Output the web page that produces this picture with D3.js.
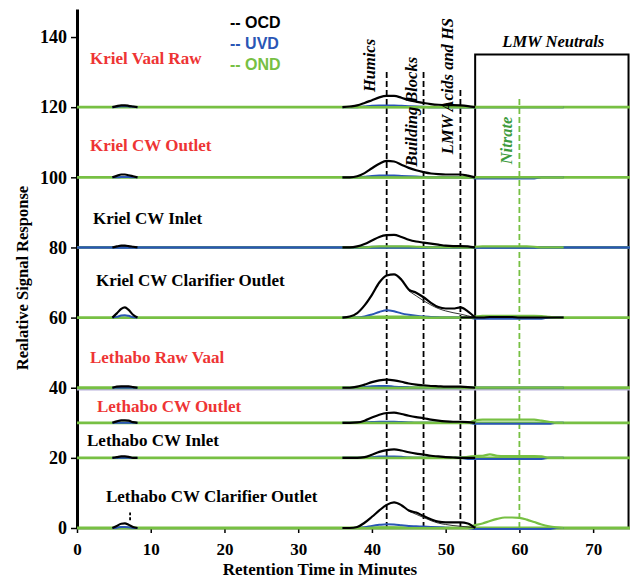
<!DOCTYPE html>
<html>
<head>
<meta charset="utf-8">
<script src="https://cdn.jsdelivr.net/npm/d3@7"></script>
<style>
  body { margin: 0; background: #fff; }
  svg { display: block; }
</style>
</head>
<body>
<div id="chart"></div>
<script>
// sample names and their vertical offsets (stacked chromatograms)
var samples = ["Kriel Vaal Raw", "Kriel CW Outlet", "Kriel CW Inlet", "Kriel CW Clarifier Outlet",
               "Lethabo Raw Vaal", "Lethabo CW Outlet", "Lethabo CW Inlet", "Lethabo CW Clarifier Outlet"];
var offsets = [120, 100, 80, 60, 40, 30, 20, 0];

var xTicks = [0, 10, 20, 30, 40, 50, 60, 70];
var yTicks = [0, 20, 40, 60, 80, 100, 120, 140];

// early peak (~6 min)
var earlyT = [4.8, 5.4, 6.0, 6.5, 7.0, 7.6, 8.2];
var earlyOCD = [
  [0, 0.3, 0.5, 0.5, 0.4, 0.2, 0],
  [0, 0.4, 0.8, 0.8, 0.6, 0.3, 0],
  [0, 0.3, 0.5, 0.5, 0.4, 0.2, 0],
  [0, 1.2, 2.5, 2.9, 2.2, 0.8, 0],
  [0, 0.3, 0.4, 0.4, 0.4, 0.2, 0],
  [0, 0.4, 0.7, 0.7, 0.6, 0.2, 0],
  [0, 0.2, 0.4, 0.4, 0.3, 0, 0],
  [0, 0.6, 1.2, 1.3, 0.9, 0.3, 0]
];
var earlyUVD = [
  [0, 0.1, 0.3, 0.3, 0.2, 0.1, 0],
  [0, 0, 0.1, 0.1, 0.1, 0, 0],
  [0, 0, 0, 0, 0, 0, 0],
  [0, 0.2, 0.6, 0.7, 0.5, 0.1, 0],
  [0, 0, 0, 0, 0, 0, 0],
  [0, 0, 0, 0, 0, 0, 0],
  [0, 0, 0, 0, 0, 0, 0],
  [0, 0.1, 0.3, 0.3, 0.2, 0, 0]
];

// humics / building blocks / LMW acids region
var humicT = [36, 37, 38, 39, 40, 41, 42, 43, 44, 45, 46, 47, 48, 49, 50, 51, 52, 53, 54];
var humicOCD = [
  [0, 0.2, 0.5, 1.2, 2.0, 2.8, 3.2, 3.2, 2.7, 2.0, 1.6, 1.2, 0.9, 0.7, 0.6, 0.6, 0.5, 0.3, 0],
  [0, 0, 0.3, 1.2, 2.6, 3.9, 4.7, 4.5, 3.6, 2.7, 2.0, 1.5, 1.1, 0.9, 0.8, 0.8, 0.8, 0.5, 0],
  [0, 0, 0.3, 1.0, 2.0, 3.0, 3.5, 3.6, 3.0, 2.2, 1.7, 1.4, 1.1, 0.8, 0.5, 0.4, 0.4, 0.3, 0],
  [0, 0.3, 1.3, 3.5, 6.5, 10.0, 12.0, 12.3, 10.8, 8.0, 7.1, 5.8, 4.2, 3.0, 2.6, 2.6, 2.9, 1.8, 0],
  [0, 0, 0.3, 0.9, 1.6, 2.1, 2.3, 2.1, 1.7, 1.2, 0.9, 0.7, 0.5, 0.4, 0.3, 0.3, 0.3, 0.2, 0],
  [0, 0, 0.1, 0.6, 1.5, 2.3, 2.8, 2.9, 2.5, 2.0, 1.6, 1.3, 0.9, 0.6, 0.4, 0.3, 0.3, 0.2, 0],
  [0, 0, 0, 0.2, 0.9, 1.7, 2.2, 2.4, 2.1, 1.6, 1.2, 0.95, 0.6, 0.4, 0.2, 0.1, 0, 0, 0],
  [0, 0, 0.3, 1.5, 3.2, 5.0, 6.6, 7.3, 6.5, 5.0, 4.4, 3.4, 2.5, 1.8, 1.6, 1.6, 1.6, 1.3, 0]
];
var humicUVD = [
  [0, 0, 0, 0.2, 0.4, 0.5, 0.5, 0.5, 0.4, 0.3, 0.2, 0.1, 0, 0, 0, 0, 0, 0, 0],
  [0, 0, 0, 0.2, 0.4, 0.5, 0.5, 0.5, 0.4, 0.3, 0.2, 0.1, 0, 0, 0, 0, 0, 0, 0],
  [0, 0, 0, 0.1, 0.2, 0.2, 0.2, 0.2, 0.2, 0.1, 0.1, 0, 0, 0, 0, 0, 0, 0, 0],
  [0, 0, 0, 0.3, 0.9, 1.6, 2.1, 1.8, 1.2, 0.8, 0.5, 0.3, 0.2, 0.1, 0, 0, 0, 0, 0],
  [0, 0, 0, 0.2, 0.4, 0.5, 0.5, 0.3, 0.2, 0.1, 0, 0, 0, 0, 0, 0, 0, 0, 0],
  [0, 0, 0, 0.1, 0.2, 0.3, 0.3, 0.3, 0.2, 0.1, 0, 0, 0, 0, 0, 0, 0, 0, 0],
  [0, 0, 0, 0, 0.2, 0.4, 0.4, 0.4, 0.3, 0.1, 0, 0, 0, 0, 0, 0, 0, 0, 0],
  [0, 0, 0, 0.2, 0.6, 0.9, 1.1, 1.0, 0.8, 0.6, 0.5, 0.4, 0.3, 0.2, 0.1, 0, 0, 0, 0]
];
var humicOND = [
  [0, 0, 0, 0, 0, 0, 0, 0, 0, 0, 0, 0, 0, 0, 0, 0, 0, 0, 0],
  [0, 0, 0, 0, 0, 0, 0, 0, 0, 0, 0, 0, 0, 0, 0, 0, 0, 0, 0],
  [0, 0, 0, 0, 0.2, 0.3, 0.3, 0.3, 0.3, 0.3, 0.2, 0.1, 0, 0, 0, 0, 0, 0, 0],
  [0, 0, 0, 0, 0.2, 0.3, 0.3, 0.3, 0.3, 0.2, 0.2, 0.1, 0, 0, 0, 0, 0, 0, 0],
  [0, 0, 0, 0, 0, 0, 0, 0, 0, 0, 0, 0, 0, 0, 0, 0, 0, 0, 0],
  [0, 0, 0, 0, 0, 0, 0, 0, 0, 0, 0, 0, 0, 0, 0, 0, 0, 0, 0],
  [0, 0, 0, 0, 0, 0, 0, 0, 0, 0, 0, 0, 0, 0, 0, 0, 0, 0, 0],
  [0, 0, 0, 0, 0.1, 0.2, 0.2, 0.2, 0.1, 0, 0, 0, 0, 0, 0, 0, 0, 0, 0]
];
// thinner second OCD trace under the shoulder (clarifier outlets)
var fitT = [45, 46, 47, 48, 49, 50, 51, 52, 53, 54];
var fitOCD = [
  null, null, null,
  [7.6, 6.2, 4.8, 3.6, 2.6, 1.9, 1.4, 1.0, 0.5, 0],
  null, null, null,
  [4.8, 3.9, 3.0, 2.1, 1.4, 1.0, 0.7, 0.5, 0.3, 0]
];

// LMW neutrals / nitrate region
var nitrateT = [52, 53, 54, 55, 56, 57, 58, 59, 60, 61, 62, 63, 64, 65, 66];
var nitrateOND = [
  [0, 0, 0, 0, 0, 0, 0, 0, 0, 0, 0, 0, 0, 0, 0],
  [0, 0, 0, 0, 0, 0, 0, 0, 0, 0, 0, 0, 0, 0, 0],
  [0, 0, 0.2, 0.3, 0.3, 0.3, 0.3, 0.3, 0.3, 0.3, 0.2, 0, 0, 0, 0],
  [0, 0, 0.3, 0.5, 0.5, 0.5, 0.5, 0.5, 0.5, 0.5, 0.5, 0.4, 0.2, 0, 0],
  [0, 0, 0, 0, 0, 0, 0, 0, 0, 0, 0, 0, 0, 0, 0],
  [0, 0, 0.7, 0.9, 0.9, 0.9, 0.9, 0.9, 0.9, 0.9, 0.9, 0.6, 0.3, 0, 0],
  [0, 0.3, 0.5, 0.6, 1.0, 0.6, 0.5, 0.5, 0.5, 0.5, 0.5, 0.4, 0, 0, 0],
  [0, 0.3, 0.8, 1.3, 2.0, 2.6, 3.0, 3.0, 2.9, 2.4, 1.7, 1.0, 0.5, 0.2, 0]
];
var nitrateUVD = [
  [0, 0, 0, 0, 0, 0, 0, 0, 0, 0, 0, 0, 0, 0, 0],
  [0, 0, -0.3, -0.3, -0.3, -0.3, -0.3, -0.3, -0.3, -0.3, -0.3, 0, 0, 0, 0],
  [0, 0, 0, 0, 0, 0, 0, 0, 0, 0, 0, 0, 0, 0, 0],
  [0, 0, -0.3, -0.3, -0.3, -0.3, -0.3, -0.3, -0.3, -0.3, -0.3, -0.3, 0, 0, 0],
  [0, 0, 0, 0, 0, 0, 0, 0, 0, 0, 0, 0, 0, 0, 0],
  [0, 0, -0.3, -0.3, -0.3, -0.3, -0.3, -0.3, -0.3, -0.3, -0.3, -0.3, -0.3, 0, 0],
  [0, -0.3, -0.3, -0.3, -0.3, -0.3, -0.3, -0.3, -0.3, -0.3, -0.3, -0.3, 0, 0, 0],
  [0, 0, -0.3, -0.3, -0.3, -0.3, -0.3, -0.3, -0.3, -0.3, -0.3, -0.3, -0.3, 0, 0]
];
var nitrateOCD = [
  null, null, null,
  [0, 0, 0, 0, 0.2, 0.2, 0.2, 0.2, 0, 0, 0, 0, 0, 0, 0],
  null, null, null, null
];

// fraction boundaries
var fractionNames = ["Humics", "Building Blocks", "LMW Acids and HS"];
var fractionT = [42, 47, 52];
var fractionTop = [130.7, 130.7, 125.4];
var nitrateLineT = 60, nitrateLineTop = 123.1;

var legendNames = ["-- OCD", "-- UVD", "-- OND"];

// ---------------------------------------------------------------
var svgWidth = 630, svgHeight = 579;
var green = "#77c043", blue = "#2a56b5", red = "#ee3434", black = "#000";
var redLabels = [0, 1, 4, 5];

var svg = d3.select("#chart").append("svg")
  .attr("width", svgWidth).attr("height", svgHeight);

var x = d3.scaleLinear().domain([0, 75]).range([77, 630]);
var y = d3.scaleLinear().domain([0, 148]).range([528, 9]);

var line = d3.line()
  .x(d => x(d[0]))
  .y(d => y(d[1]))
  .curve(d3.curveMonotoneX);

function series(ts, vals, off) {
  return ts.map((t, i) => [t, vals[i] + off]);
}

// x axis
var xAxis = svg.append("g")
  .attr("transform", `translate(0, ${y(0)})`)
  .call(d3.axisBottom(x).tickValues(xTicks).tickSize(5).tickSizeOuter(0));
xAxis.select(".domain").attr("stroke-width", 1.5);
xAxis.selectAll(".tick line").attr("stroke-width", 1.5);
xAxis.selectAll("text")
  .attr("y", 27).attr("dy", 0)
  .style("font-family", "Liberation Serif").style("font-weight", "bold").style("font-size", "17px")
  .attr("fill", black);

// y axis
var yAxis = svg.append("g")
  .attr("transform", `translate(${x(0)}, 0)`)
  .call(d3.axisLeft(y).tickValues(yTicks).tickSize(6).tickSizeOuter(0));
yAxis.select(".domain").attr("stroke-width", 3);
yAxis.selectAll(".tick line").attr("stroke-width", 1.5);
yAxis.selectAll("text")
  .attr("x", -10)
  .style("font-family", "Liberation Serif").style("font-weight", "bold").style("font-size", "18px")
  .attr("fill", black);

// axis titles
svg.append("text")
  .attr("x", 320).attr("y", 575)
  .attr("text-anchor", "middle")
  .style("font-family", "Liberation Serif").style("font-weight", "bold").style("font-size", "17px")
  .text("Retention Time in Minutes");

svg.append("text")
  .attr("transform", "translate(28, 278) rotate(-90)")
  .attr("text-anchor", "middle")
  .style("font-family", "Liberation Serif").style("font-weight", "bold").style("font-size", "16.5px")
  .text("Realative Signal Response");

// fraction dashed lines
fractionT.forEach(function(t, i) {
  svg.append("line")
    .attr("x1", x(t)).attr("x2", x(t))
    .attr("y1", y(0)).attr("y2", y(fractionTop[i]))
    .attr("stroke", black).attr("stroke-width", 1.8)
    .attr("stroke-dasharray", "6,3");
});
svg.append("line")
  .attr("x1", x(nitrateLineT)).attr("x2", x(nitrateLineT))
  .attr("y1", y(0)).attr("y2", y(nitrateLineTop))
  .attr("stroke", green).attr("stroke-width", 1.8)
  .attr("stroke-dasharray", "6,3");

// LMW neutrals box
svg.append("path")
  .attr("d", d3.line()([[x(54), y(0)], [x(54), y(135)], [x(74.8), y(135)], [x(74.8), y(0)]]))
  .attr("fill", "none").attr("stroke", black).attr("stroke-width", 2);

// chromatograms
samples.forEach(function(name, i) {
  var off = offsets[i];
  var g = svg.append("g");

  if (i === 4) {
    g.append("path")
      .attr("d", line([[0, off - 0.5], [75.3, off - 0.5]]))
      .attr("fill", "none").attr("stroke", "#b8b0dc").attr("stroke-width", 2);
  }
  // OND baseline
  g.append("path")
    .attr("d", line([[0, off], [75.3, off]]))
    .attr("fill", "none").attr("stroke", green).attr("stroke-width", 2.8);
  if (i === 2) {
    g.append("path")
      .attr("d", line([[0, off], [75.3, off]]))
      .attr("fill", "none").attr("stroke", blue).attr("stroke-width", 2.4);
  }
  // UVD
  [series(earlyT, earlyUVD[i], off), series(humicT, humicUVD[i], off), series(nitrateT, nitrateUVD[i], off)]
    .forEach(function(s) {
      g.append("path").attr("d", line(s))
        .attr("fill", "none").attr("stroke", blue).attr("stroke-width", 2);
    });
  // OND
  [series(humicT, humicOND[i], off), series(nitrateT, nitrateOND[i], off)]
    .forEach(function(s) {
      g.append("path").attr("d", line(s))
        .attr("fill", "none").attr("stroke", green).attr("stroke-width", 2.2);
    });
  // OCD
  if (fitOCD[i]) {
    g.append("path").attr("d", line(series(fitT, fitOCD[i], off)))
      .attr("fill", "none").attr("stroke", "#333").attr("stroke-width", 1);
  }
  [series(earlyT, earlyOCD[i], off), series(humicT, humicOCD[i], off)]
    .forEach(function(s) {
      g.append("path").attr("d", line(s))
        .attr("fill", "none").attr("stroke", black).attr("stroke-width", 2.2);
    });
  if (nitrateOCD[i]) {
    g.append("path").attr("d", line(series(nitrateT, nitrateOCD[i], off)))
      .attr("fill", "none").attr("stroke", black).attr("stroke-width", 2);
  }
});

// small dash over early peak of last sample
svg.append("line")
  .attr("x1", x(7.2)).attr("x2", x(7.2))
  .attr("y1", y(2.2)).attr("y2", y(4.4))
  .attr("stroke", black).attr("stroke-width", 1.8).attr("stroke-dasharray", "3,2");

// sample labels
var labelT = [1.76, 1.76, 2.17, 2.58, 1.76, 2.71, 1.36, 3.93];
var labelDy = [12.3, 7.4, 6.6, 9.1, 7.1, 3.1, 3.4, 7.4];
samples.forEach(function(name, i) {
  svg.append("text")
    .attr("x", x(labelT[i])).attr("y", y(offsets[i] + labelDy[i]))
    .attr("fill", redLabels.indexOf(i) >= 0 ? red : black)
    .style("font-family", "Liberation Serif").style("font-weight", "bold").style("font-size", "17px")
    .text(name);
});

// rotated fraction labels
var fracLabelT = [40.4, 46.1, 51.0];
var fracLabelV = [124.3, 103.1, 106.6];
fractionNames.forEach(function(n, i) {
  svg.append("text")
    .attr("transform", `translate(${x(fracLabelT[i])}, ${y(fracLabelV[i])}) rotate(-90)`)
    .style("font-family", "Liberation Serif").style("font-weight", "bold")
    .style("font-style", "italic").style("font-size", "16.5px")
    .text(n);
});
svg.append("text")
  .attr("transform", `translate(${x(59.0)}, ${y(103.7)}) rotate(-90)`)
  .attr("fill", "#3d9b3d")
  .style("font-family", "Liberation Serif").style("font-weight", "bold")
  .style("font-style", "italic").style("font-size", "16.5px")
  .text("Nitrate");
svg.append("text")
  .attr("x", x(64.6)).attr("y", y(137.1))
  .attr("text-anchor", "middle")
  .style("font-family", "Liberation Serif").style("font-weight", "bold")
  .style("font-style", "italic").style("font-size", "16.5px")
  .text("LMW Neutrals");

// legend
var legendColors = [black, blue, green];
legendNames.forEach(function(n, i) {
  svg.append("text")
    .attr("x", 230).attr("y", 28 + i * 21)
    .attr("fill", legendColors[i])
    .style("font-family", "Liberation Sans").style("font-weight", "bold").style("font-size", "16px")
    .text(n);
});
</script>
</body>
</html>
